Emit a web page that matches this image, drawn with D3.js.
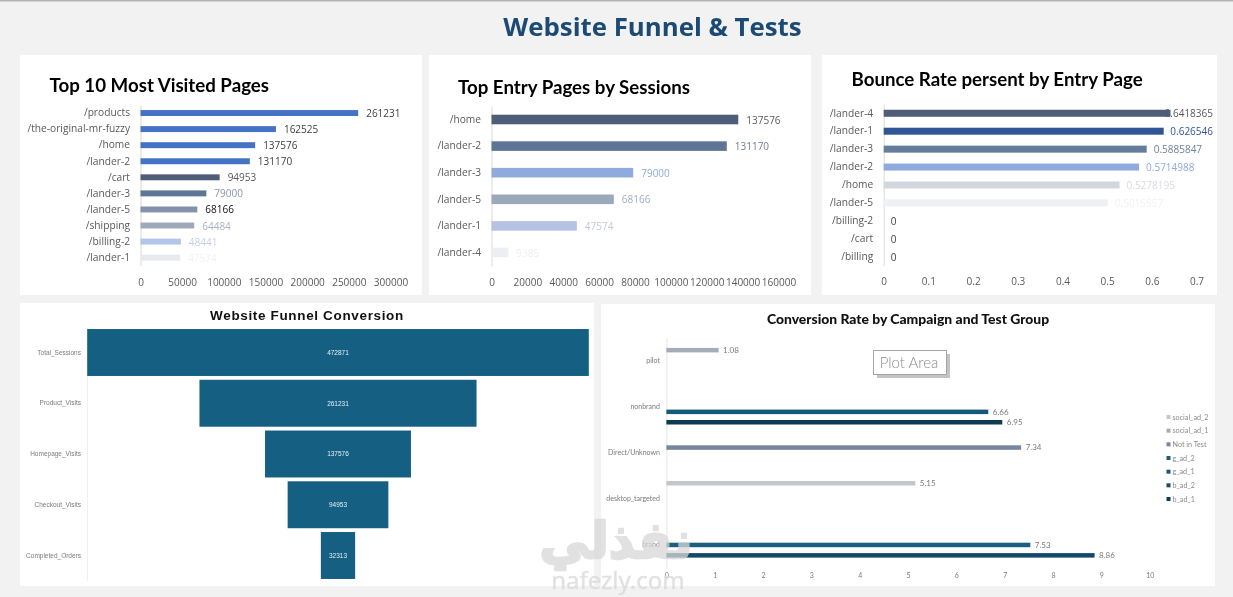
<!DOCTYPE html>
<html>
<head>
<meta charset="utf-8">
<script src="https://cdn.jsdelivr.net/npm/d3@7"></script>
<style>
  html, body { margin: 0; padding: 0; background: #f2f2f2; }
  svg { display: block; filter: blur(0.35px); }
</style>
</head>
<body>
<svg id="chart" width="1233" height="597"></svg>
<script>
// top 10 pages
var pageNames = ["/products", "/the-original-mr-fuzzy", "/home", "/lander-2", "/cart", "/lander-3", "/lander-5", "/shipping", "/billing-2", "/lander-1"];
var pageViews = [261231, 162525, 137576, 131170, 94953, 79000, 68166, 64484, 48441, 47574];
var pageTicks = [0, 50000, 100000, 150000, 200000, 250000, 300000];
var pageColors = ["#4472c4", "#4472c4", "#4472c4", "#4472c4", "#4f5d78", "#5f7595", "#8292aa", "#9ea9bb", "#b4c6e7", "#e7e9ee"];
var pageLabelColors = ["#404040", "#404040", "#404040", "#404040", "#595959", "#8a97ad", "#111111", "#a9b2c2", "#c5cfe3", "#f0f1f4"];

// entry pages
var entryNames = ["/home", "/lander-2", "/lander-3", "/lander-5", "/lander-1", "/lander-4"];
var entrySessions = [137576, 131170, 79000, 68166, 47574, 9385];
var entryTicks = [0, 20000, 40000, 60000, 80000, 100000, 120000, 140000, 160000];
var entryColors = ["#4f5d78", "#5f7595", "#8faadc", "#9aa8ba", "#b4c2e4", "#eceef1"];
var entryLabelColors = ["#595959", "#6f7c92", "#8faadc", "#a3adbc", "#c3c9d8", "#f0f0f3"];

// bounce rate
var bounceNames = ["/lander-4", "/lander-1", "/lander-3", "/lander-2", "/home", "/lander-5", "/billing-2", "/cart", "/billing"];
var bounceRates = [0.6418365, 0.626546, 0.5885847, 0.5714988, 0.5278195, 0.5015557, 0, 0, 0];
var bounceTicks = [0, 0.1, 0.2, 0.3, 0.4, 0.5, 0.6, 0.7];
var bounceColors = ["#4f5d78", "#2f5597", "#657d9c", "#8faadc", "#d3d6de", "#eef0f3", "#ffffff", "#ffffff", "#ffffff"];
var bounceLabelColors = ["#595959", "#2f5597", "#6f8299", "#8faadc", "#d8dbe2", "#f0f1f4", "#404040", "#404040", "#404040"];

// funnel
var funnelSteps = ["Total_Sessions", "Product_Visits", "Homepage_Visits", "Checkout_Visits", "Completed_Orders"];
var funnelValues = [472871, 261231, 137576, 94953, 32313];

// campaign conversion
var campaigns = ["pilot", "nonbrand", "Direct/Unknown", "desktop_targeted", "brand"];
var testGroups = ["social_ad_2", "social_ad_1", "Not in Test", "g_ad_2", "g_ad_1", "b_ad_2", "b_ad_1"];
var groupColors = ["#c3c7cd", "#a4acb8", "#74879c", "#1a5f80", "#135a7a", "#134a67", "#0e3a54"];
var convCampaign = ["pilot", "nonbrand", "nonbrand", "Direct/Unknown", "desktop_targeted", "brand", "brand"];
var convGroup = ["social_ad_1", "g_ad_1", "b_ad_1", "Not in Test", "social_ad_2", "g_ad_2", "b_ad_2"];
var convRate = [1.08, 6.66, 6.95, 7.34, 5.15, 7.53, 8.86];
var convTicks = [0, 1, 2, 3, 4, 5, 6, 7, 8, 9, 10];

var svg = d3.select("#chart");

svg.append("rect").attr("width", 1233).attr("height", 597).attr("fill", "#f2f2f2");
svg.append("rect").attr("width", 1233).attr("height", 1.5).attr("fill", "#b4b4b4");

function panel(x, y, w, h) {
  svg.append("rect").attr("x", x).attr("y", y).attr("width", w).attr("height", h).attr("fill", "#fff");
}

panel(20, 55, 402, 240);
panel(429, 55, 382, 240);
panel(822, 55, 395, 240);
panel(20, 303, 574, 283);
panel(601, 304, 614, 282);

svg.append("text")
  .attr("x", 652.5).attr("y", 36)
  .attr("text-anchor", "middle")
  .attr("font-family", "'Open Sans', sans-serif")
  .attr("font-weight", 700)
  .attr("font-size", 25.8)
  .attr("fill", "#1b4a74")
  .text("Website Funnel & Tests");

function title(text, x, y) {
  svg.append("text")
    .attr("x", x).attr("y", y)
    .attr("font-family", "Lato, sans-serif")
    .attr("font-weight", 700)
    .attr("font-size", 18.7)
    .attr("fill", "#000")
    .text(text);
}

// the three top charts share the same look
function barChart(o) {
  var x = d3.scaleLinear().domain([0, o.max]).range([o.left, o.right]);
  var y = d3.scaleBand().domain(o.names).range([o.top, o.bottom]).paddingInner(o.padding).paddingOuter(o.padding / 2);
  var rows = o.names.map(function(n, i) { return { name: n, value: o.values[i], i: i }; });

  var yAxis = d3.axisLeft(y).tickSize(0).tickPadding(10.5);
  var gy = svg.append("g").attr("transform", "translate(" + o.left + ",0)").call(yAxis);
  gy.select(".domain").attr("stroke", "#d9d9d9");
  gy.selectAll("text").attr("font-size", 10.2).attr("fill", "#595959").attr("font-family", "'Open Sans', sans-serif");

  var xAxis = d3.axisBottom(x).tickValues(o.ticks).tickSize(0).tickPadding(0).tickFormat(function(d) { return d; });
  var gx = svg.append("g").attr("transform", "translate(0," + o.axisY + ")").call(xAxis);
  gx.select(".domain").remove();
  gx.selectAll("text").attr("font-size", 10).attr("fill", "#595959").attr("font-family", "'Open Sans', sans-serif");

  // labels go first, the long one ends up partly under its bar
  svg.append("g").selectAll("text").data(rows).enter().append("text")
    .attr("font-family", "'Open Sans', sans-serif")
    .attr("font-size", 10)
    .attr("dy", "0.35em")
    .attr("y", function(d) { return y(d.name) + y.bandwidth() / 2 + 0.5; })
    .attr("fill", function(d) { return o.labelColors[d.i]; })
    .text(function(d) { return d.value; })
    .attr("x", function(d) {
      var px = x(d.value) + o.labelGap;
      return Math.min(px, o.labelLimit - this.getComputedTextLength());
    });

  svg.append("g").selectAll("rect").data(rows).enter().append("rect")
    .attr("x", x(0))
    .attr("y", function(d) { return y(d.name); })
    .attr("width", function(d) { return x(d.value) - x(0); })
    .attr("height", y.bandwidth())
    .attr("fill", function(d) { return o.colors[d.i]; });
}

title("Top 10 Most Visited Pages", 49.5, 92);
barChart({
  names: pageNames, values: pageViews, ticks: pageTicks, colors: pageColors, labelColors: pageLabelColors,
  max: 300000, left: 140.5, right: 390.5, top: 105, bottom: 265.7, padding: 0.63, axisY: 278.5,
  labelGap: 8, labelLimit: 1233
});

title("Top Entry Pages by Sessions", 458, 94);
barChart({
  names: entryNames, values: entrySessions, ticks: entryTicks, colors: entryColors, labelColors: entryLabelColors,
  max: 160000, left: 491.5, right: 778.5, top: 106.2, bottom: 265.8, padding: 0.64, axisY: 278.5,
  labelGap: 8, labelLimit: 1233
});

title("Bounce Rate persent by Entry Page", 851.5, 86);
barChart({
  names: bounceNames, values: bounceRates, ticks: bounceTicks, colors: bounceColors, labelColors: bounceLabelColors,
  max: 0.7, left: 883.7, right: 1196.5, top: 104.3, bottom: 265.7, padding: 0.61, axisY: 277.5,
  labelGap: 7, labelLimit: 1213
});

// funnel conversion, bars centered on the same line
var fw = d3.scaleLinear().domain([0, 472871]).range([0, 501.6]);
var fy = d3.scaleBand().domain(funnelSteps).range([327.5, 580.5]).paddingInner(0.075).paddingOuter(0.03);
var funnelCx = 338;

svg.append("text")
  .attr("x", 307).attr("y", 320)
  .attr("text-anchor", "middle")
  .attr("font-family", "'Liberation Sans', Arial, sans-serif")
  .attr("font-weight", 700)
  .attr("font-size", 13.5)
  .attr("letter-spacing", 0.65)
  .attr("fill", "#111")
  .text("Website Funnel Conversion");

var fAxis = d3.axisLeft(fy).tickSize(0).tickPadding(6);
var gf = svg.append("g").attr("transform", "translate(87,0)").call(fAxis);
gf.select(".domain").attr("stroke", "#f0f0f0");
gf.selectAll("text").attr("font-size", 6.5).attr("fill", "#7a7a7a").attr("font-family", "'Liberation Sans', Arial, sans-serif");

svg.append("g").selectAll("rect").data(funnelValues).enter().append("rect")
  .attr("x", function(d) { return funnelCx - fw(d) / 2; })
  .attr("y", function(d, i) { return fy(funnelSteps[i]); })
  .attr("width", function(d) { return fw(d); })
  .attr("height", fy.bandwidth())
  .attr("fill", "#156082");

svg.append("g").selectAll("text").data(funnelValues).enter().append("text")
  .attr("x", funnelCx)
  .attr("y", function(d, i) { return fy(funnelSteps[i]) + fy.bandwidth() / 2; })
  .attr("dy", "0.35em")
  .attr("text-anchor", "middle")
  .attr("font-family", "'Liberation Sans', Arial, sans-serif")
  .attr("font-size", 6.5)
  .attr("fill", "#e4eef4")
  .text(function(d) { return d; });

// conversion by campaign and test group
var cx = d3.scaleLinear().domain([0, 10]).range([666.4, 1149.7]);
var cy = d3.scaleBand().domain(campaigns).range([337.5, 568]);
var groupY = d3.scaleBand().domain(testGroups).range([-18.2, 18.2]);

svg.append("text")
  .attr("x", 908).attr("y", 324)
  .attr("text-anchor", "middle")
  .attr("font-family", "Lato, sans-serif")
  .attr("font-weight", 900)
  .attr("font-size", 13.9)
  .attr("fill", "#111")
  .text("Conversion Rate by Campaign and Test Group");

var gc = svg.append("g").attr("transform", "translate(666.4,0)").call(d3.axisLeft(cy).tickSize(0).tickPadding(6.5));
gc.select(".domain").attr("stroke", "#e6e6e6");
gc.selectAll("text").attr("font-size", 7).attr("fill", "#7a7a7a").attr("font-family", "Lato, sans-serif");

var gcx = svg.append("g").attr("transform", "translate(0,573)")
  .call(d3.axisBottom(cx).tickValues(convTicks).tickSize(0).tickPadding(0));
gcx.select(".domain").remove();
gcx.selectAll("text").attr("font-size", 7).attr("fill", "#7a7a7a").attr("font-family", "Lato, sans-serif");

function barY(i) {
  return cy(convCampaign[i]) + cy.bandwidth() / 2 + groupY(convGroup[i]);
}

svg.append("g").selectAll("rect").data(convRate).enter().append("rect")
  .attr("x", cx(0))
  .attr("y", function(d, i) { return barY(i) + 0.35; })
  .attr("width", function(d) { return cx(d) - cx(0); })
  .attr("height", 4.5)
  .attr("fill", function(d, i) { return groupColors[testGroups.indexOf(convGroup[i])]; });

svg.append("g").selectAll("text").data(convRate).enter().append("text")
  .attr("x", function(d) { return cx(d) + 4.5; })
  .attr("y", function(d, i) { return barY(i) + groupY.bandwidth() / 2; })
  .attr("dy", "0.35em")
  .attr("font-family", "Lato, sans-serif")
  .attr("font-size", 8)
  .attr("fill", "#7a7a7a")
  .text(function(d) { return d; });

// legend
var legendY = d3.scalePoint().domain(testGroups).range([417, 499]);
var lg = svg.append("g").selectAll("g").data(testGroups).enter().append("g")
  .attr("transform", function(d) { return "translate(1168.5," + legendY(d) + ")"; });
lg.append("rect").attr("x", -2).attr("y", -2).attr("width", 4).attr("height", 4)
  .attr("fill", function(d, i) { return groupColors[i]; });
lg.append("text").attr("x", 4).attr("dy", "0.35em")
  .attr("font-family", "Lato, sans-serif").attr("font-size", 7.2).attr("fill", "#8a8a8a")
  .text(function(d) { return d; });

// excel tooltip left over in the screenshot
svg.append("rect").attr("x", 877).attr("y", 354).attr("width", 73).attr("height", 24).attr("fill", "#c4c4c4");
svg.append("rect").attr("x", 873.5).attr("y", 350.5).attr("width", 73).attr("height", 24)
  .attr("fill", "#fff").attr("stroke", "#a6a6a6");
svg.append("text").attr("x", 909).attr("y", 367.5).attr("text-anchor", "middle")
  .attr("font-family", "Lato, sans-serif").attr("font-weight", 300).attr("font-size", 15).attr("fill", "#8c8c8c").text("Plot Area");

// watermark
var wm = svg.append("g").attr("opacity", 0.75).attr("fill", "#d8d8d8").attr("stroke", "#d8d8d8");
wm.append("text").attr("x", 616).attr("y", 558).attr("text-anchor", "middle")
  .attr("font-family", "'DejaVu Sans', sans-serif").attr("font-weight", 700).attr("font-size", 50)
  .attr("stroke-width", 2.5)
  .text("نفذلي");
wm.append("text").attr("x", 618).attr("y", 589).attr("text-anchor", "middle")
  .attr("font-family", "'Noto Sans', sans-serif").attr("font-size", 24).attr("stroke-width", 0.4)
  .text("nafezly.com");
</script>
</body>
</html>
